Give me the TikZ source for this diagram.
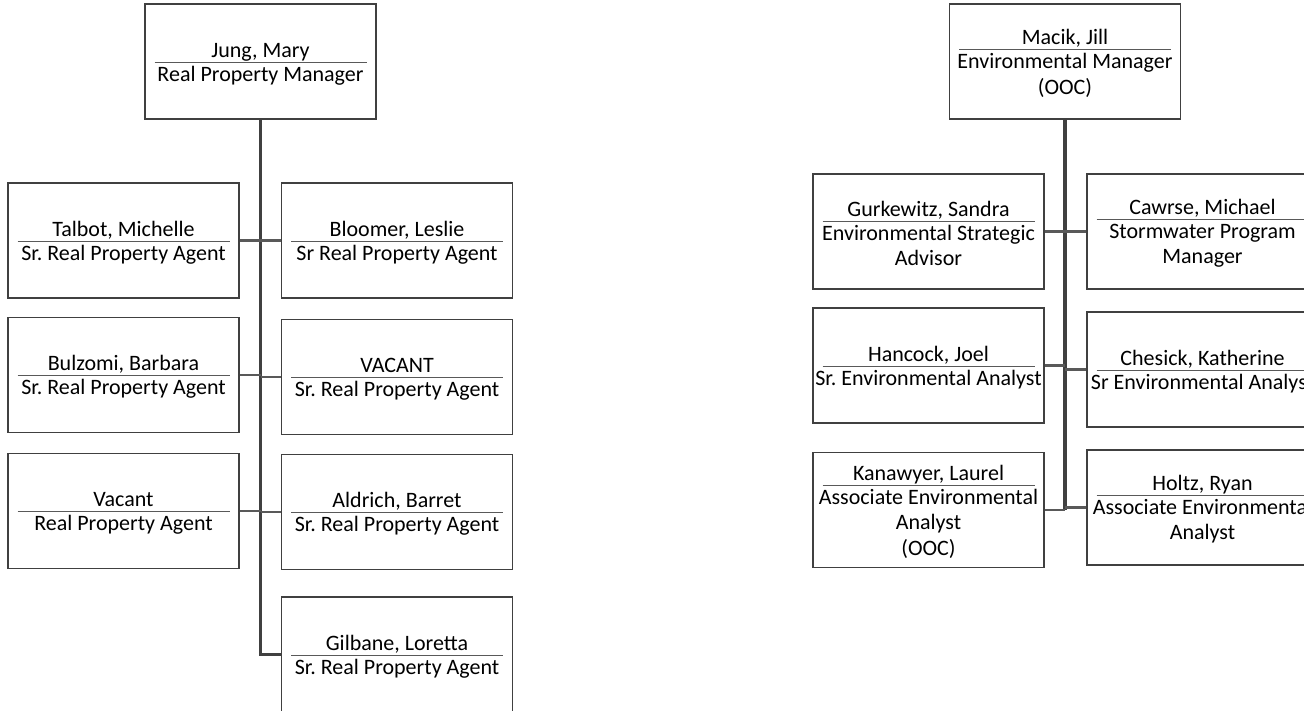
\documentclass[tikz,border=0pt]{standalone}
\usepackage{fontspec}
\setmainfont{Carlito}
\usetikzlibrary{arrows}
\frenchspacing

% name over a short rule, job title below
\newcommand{\staff}[2]{\rule{0pt}{19pt}#1\\[-20pt]{\color{black!65}\rule{212pt}{0.9pt}}\\[-7pt]#2}

\begin{document}
\begin{tikzpicture}[x=1pt,y=-1pt]
\tikzstyle{box} = [draw=black!75,line width=1.1pt,fill=white,shape=rectangle,minimum width=231pt,minimum height=115pt,inner sep=0pt,align=center,font=\fontsize{22}{25.5}\selectfont]
\tikzstyle{trunk} = [draw=black!75,line width=3.5pt]
\tikzstyle{branch} = [draw=black!65,line width=2.5pt]

\useasboundingbox (0,0) rectangle (1304,710);

% real property
\node[box] (jung) at (260.5,61.5) {\staff{Jung, Mary}{Real Property Manager}};
\node[box] (talbot) at (123.5,240.5) {\staff{Talbot, Michelle}{Sr. Real Property Agent}};
\node[box] (bloomer) at (397,240.5) {\staff{Bloomer, Leslie}{Sr Real Property Agent}};
\node[box] (bulzomi) at (123.5,375) {\staff{Bulzomi, Barbara}{Sr. Real Property Agent}};
\node[box] (vacantsr) at (397,377) {\staff{VACANT}{Sr. Real Property Agent}};
\node[box] (vacant) at (123.5,511) {\staff{Vacant}{Real Property Agent}};
\node[box] (aldrich) at (397,512) {\staff{Aldrich, Barret}{Sr. Real Property Agent}};
\node[box] (gilbane) at (397,654.5) {\staff{Gilbane, Loretta}{Sr. Real Property Agent}};

\draw[trunk] (jung.south) |- (gilbane.west);
\draw[branch] (talbot.east) -- (talbot.east -| jung.south);
\draw[branch] (bloomer.west) -- (bloomer.west -| jung.south);
\draw[branch] (bulzomi.east) -- (bulzomi.east -| jung.south);
\draw[branch] (vacantsr.west) -- (vacantsr.west -| jung.south);
\draw[branch] (vacant.east) -- (vacant.east -| jung.south);
\draw[branch] (aldrich.west) -- (aldrich.west -| jung.south);

% environmental
\node[box] (macik) at (1065,61.5) {\staff{Macik, Jill}{Environmental Manager\\(OOC)}};
\node[box] (gurkewitz) at (928.5,231.5) {\staff{Gurkewitz, Sandra}{Environmental Strategic\\Advisor}};
\node[box] (cawrse) at (1202.5,231.5) {\staff{Cawrse, Michael}{Stormwater Program\\Manager}};
\node[box] (hancock) at (928.5,365.5) {\staff{Hancock, Joel}{Sr. Environmental Analyst}};
\node[box] (chesick) at (1202.5,369.5) {\staff{Chesick, Katherine}{Sr Environmental Analyst}};
\node[box] (kanawyer) at (928.5,510) {\staff{Kanawyer, Laurel}{Associate Environmental\\Analyst\\(OOC)}};
\node[box] (holtz) at (1202.5,507.5) {\staff{Holtz, Ryan}{Associate Environmental\\Analyst}};

\draw[trunk] (macik.south) -- (macik.south |- kanawyer.east);
\draw[branch] (gurkewitz.east) -- (gurkewitz.east -| macik.south);
\draw[branch] (cawrse.west) -- (cawrse.west -| macik.south);
\draw[branch] (hancock.east) -- (hancock.east -| macik.south);
\draw[branch] (chesick.west) -- (chesick.west -| macik.south);
\draw[branch] (kanawyer.east) -- (kanawyer.east -| macik.south);
\draw[branch] (holtz.west) -- (holtz.west -| macik.south);

\end{tikzpicture}
\end{document}
